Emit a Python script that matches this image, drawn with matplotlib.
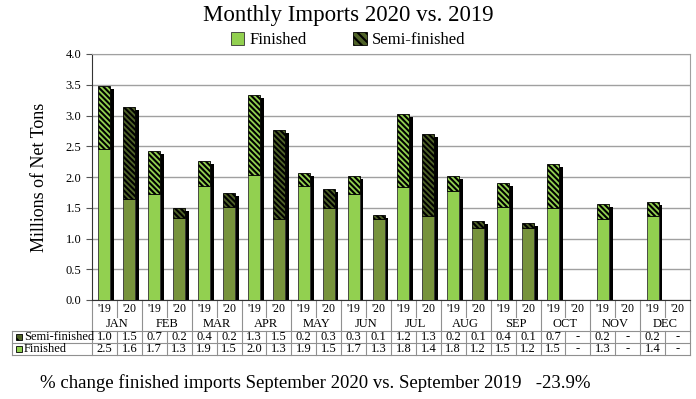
import matplotlib
matplotlib.use("Agg")
import matplotlib.pyplot as plt
import numpy as np
from matplotlib.patches import Patch
from matplotlib.transforms import blended_transform_factory

months = ['JAN', 'FEB', 'MAR', 'APR', 'MAY', 'JUN', 'JUL', 'AUG', 'SEP', 'OCT', 'NOV', 'DEC']
years = ["'19", "'20"]

finished_2019 = [2.46, 1.73, 1.86, 2.03, 1.86, 1.72, 1.83, 1.78, 1.52, 1.50, 1.32, 1.36]
semi_2019 = [1.02, 0.69, 0.40, 1.30, 0.20, 0.30, 1.20, 0.23, 0.39, 0.71, 0.24, 0.23]
finished_2020 = [1.64, 1.33, 1.51, 1.31, 1.50, 1.32, 1.36, 1.17, 1.17, np.nan, np.nan, np.nan]
semi_2020 = [1.50, 0.17, 0.23, 1.46, 0.30, 0.07, 1.34, 0.11, 0.08, np.nan, np.nan, np.nan]

footnote = '% change finished imports September 2020 vs. September 2019   -23.9%'

plt.rcParams['font.family'] = ['Liberation Serif', 'DejaVu Serif']
plt.rcParams['hatch.linewidth'] = 1.5

colors_fin = ['#92D050', '#77933C']
colors_semi = ['#92D050', '#4F6228']
hatch = '\\' * 6

fig = plt.figure(figsize=(6.96, 3.99), dpi=100)
ax = fig.add_axes([92 / 696, 1 - 300 / 399, 598 / 696, 246 / 399])

width = 0.48
for yi, (fin, semi) in enumerate([(finished_2019, semi_2019), (finished_2020, semi_2020)]):
    fin = np.array(fin)
    semi = np.array(semi)
    x = np.arange(12) * 2 + yi + 0.5
    ok = ~np.isnan(fin)
    total = fin + semi
    # black drop shadow
    ax.bar(x[ok] + 0.15, total[ok] - 0.05, width, color='black', zorder=2)
    ax.bar(x[ok], fin[ok], width, color=colors_fin[yi], edgecolor='#333333', lw=0.6, zorder=3)
    ax.bar(x[ok], semi[ok], width, bottom=fin[ok], color=colors_semi[yi],
           edgecolor='black', hatch=hatch, lw=0.6, zorder=3)

ax.set_xlim(0, 24)
ax.set_ylim(0, 4)
ax.set_yticks(np.arange(0, 4.01, 0.5))
ax.set_yticklabels([f'{v:.1f}' for v in np.arange(0, 4.01, 0.5)], fontsize=9)
ax.set_xticks([])
ax.yaxis.grid(True, color='#A0A0A0', lw=1)
ax.set_axisbelow(True)
ax.tick_params(axis='y', length=4, color='#555555')
for s in ['top', 'right']:
    ax.spines[s].set_color('#A0A0A0')
ax.spines['left'].set_color('#333333')
ax.spines['bottom'].set_color('#333333')
ax.set_ylabel('Millions of Net Tons', fontsize=13, labelpad=13)

# data table under the axes
tr = blended_transform_factory(ax.transData, ax.transAxes)
ta = ax.transAxes
px = 1 / 246.0
y_year, y_month, y_semi, y_fin, y_end = 0, -17 * px, -31 * px, -43 * px, -55 * px
lab_left = -80 / 598
gc = '#909090'
kw = dict(clip_on=False, lw=0.8, color=gc)

for i in range(25):
    ax.plot([i, i], [y_semi, y_end], transform=tr, **kw)
    if i % 2 == 1:
        ax.plot([i, i], [y_year, y_month], transform=tr, **kw)
    else:
        ax.plot([i, i], [y_year, y_semi], transform=tr, **kw)
for yy in [y_semi, y_fin, y_end]:
    ax.plot([lab_left, 1], [yy, yy], transform=ta, **kw)
ax.plot([lab_left, lab_left], [y_semi, y_end], transform=ta, **kw)

for m in range(12):
    ax.text(2 * m + 1, (y_month + y_semi) / 2, months[m], transform=tr,
            ha='center', va='center', fontsize=9)
    for yi, (fin, semi) in enumerate([(finished_2019, semi_2019), (finished_2020, semi_2020)]):
        xc = 2 * m + yi + 0.5
        ax.text(xc, (y_year + y_month) / 2, years[yi], transform=tr,
                ha='center', va='center', fontsize=8.5)
        s = '-' if np.isnan(semi[m]) else f'{semi[m]:.1f}'
        f = '-' if np.isnan(fin[m]) else f'{fin[m]:.1f}'
        ax.text(xc, (y_semi + y_fin) / 2, s, transform=tr, ha='center', va='center', fontsize=9)
        ax.text(xc, (y_fin + y_end) / 2, f, transform=tr, ha='center', va='center', fontsize=9)

# row labels with key squares
kx = lab_left + 0.006
for yc, label, fc, h in [((y_semi + y_fin) / 2, 'Semi-finished', '#4F6228', '\\\\\\'),
                         ((y_fin + y_end) / 2, 'Finished', '#92D050', None)]:
    ax.add_patch(plt.Rectangle((kx, yc - 3 * px), 0.011, 6 * px, transform=ta, clip_on=False,
                               facecolor=fc, edgecolor='black', lw=0.6, hatch=h))
    ax.text(kx + 0.014, yc, label, transform=ta, ha='left', va='center', fontsize=9)

fig.text(0.5, 1 - 15 / 399, 'Monthly Imports 2020 vs. 2019', ha='center', va='center', fontsize=16.5)
handles = [Patch(facecolor='#92D050', edgecolor='#333333', lw=0.6),
           Patch(facecolor='#4F6228', edgecolor='black', hatch='\\\\\\\\', lw=0.6)]
fig.legend(handles, ['Finished', 'Semi-finished'], loc='center', bbox_to_anchor=(0.5, 1 - 40 / 399),
           ncol=2, frameon=False, fontsize=12, handlelength=0.8, handleheight=0.8,
           handletextpad=0.3, columnspacing=2.8)

fig.text(40 / 696, 1 - 383 / 399, footnote, ha='left', va='center', fontsize=13.5)

fig.savefig('out.png', dpi=100)
